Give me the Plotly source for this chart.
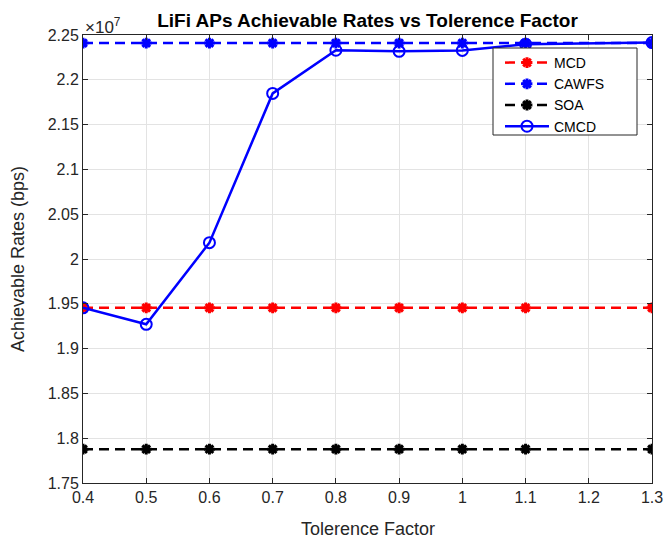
import plotly.graph_objects as go

x_vals = [0.4, 0.5, 0.6, 0.7, 0.8, 0.9, 1.0, 1.1, 1.3]
mcd = [1.9455e7] * 9
cawfs = [2.2410e7] * 9
soa = [1.7877e7] * 9
cmcd = [1.9455e7, 1.9271e7, 2.0182e7, 2.1848e7, 2.2330e7, 2.2318e7, 2.2328e7, 2.2398e7, 2.2415e7]

y_tickvals = [1.75e7, 1.8e7, 1.85e7, 1.9e7, 1.95e7, 2.0e7, 2.05e7, 2.1e7, 2.15e7, 2.2e7, 2.25e7]
y_ticktext = ["1.75", "1.8", "1.85", "1.9", "1.95", "2", "2.05", "2.1", "2.15", "2.2", "2.25"]
x_tickvals = [0.4, 0.5, 0.6, 0.7, 0.8, 0.9, 1.0, 1.1, 1.2, 1.3]
x_ticktext = ["0.4", "0.5", "0.6", "0.7", "0.8", "0.9", "1", "1.1", "1.2", "1.3"]

FONT = "Liberation Sans, Arial, sans-serif"
L, R, T, B = 83, 652, 35, 483
W, H = 665, 540

fig = go.Figure()

def star_series(name, y, color):
    fig.add_trace(go.Scatter(
        x=x_vals, y=y, name=name, mode="lines+markers",
        line=dict(color=color, width=2.5, dash="10px,6px"),
        marker=dict(symbol="asterisk-open", size=9, color=color,
                    line=dict(color=color, width=3)),
    ))

star_series("MCD", mcd, "#ff0000")
star_series("CAWFS", cawfs, "#0000ff")
star_series("SOA", soa, "#000000")
fig.add_trace(go.Scatter(
    x=x_vals, y=cmcd, name="CMCD", mode="lines+markers",
    line=dict(color="#0000ff", width=2.5),
    marker=dict(symbol="circle-open", size=11, color="#0000ff",
                line=dict(color="#0000ff", width=2)),
))

def px_x(p):
    return (p - L) / (R - L)

def px_y(p):
    return (B - p) / (B - T)

# legend box (drawn as a shape so its size matches the reference)
fig.add_shape(type="rect", xref="paper", yref="paper",
              x0=px_x(493), x1=px_x(637), y0=px_y(135), y1=px_y(48),
              fillcolor="white", line=dict(color="#262626", width=1), layer="above")

fig.update_layout(
    width=W, height=H,
    margin=dict(l=L, r=W - R, t=T, b=H - B, autoexpand=False),
    paper_bgcolor="white", plot_bgcolor="white",
    font=dict(family=FONT, color="#262626", size=16),
    title=dict(text="<b>LiFi APs Achievable Rates vs Tolerence Factor</b>",
               x=(L + R) / 2 / W, xanchor="center", y=1 - 20 / H, yanchor="middle",
               font=dict(size=19, color="#000000", family=FONT)),
    showlegend=True,
    legend=dict(x=px_x(500), y=px_y(47),
                xanchor="left", yanchor="top",
                bgcolor="rgba(0,0,0,0)", borderwidth=0,
                font=dict(size=14, color="#000000"),
                tracegroupgap=0, itemwidth=44),
    xaxis=dict(range=[0.4, 1.3], tickvals=x_tickvals, ticktext=x_ticktext,
               showgrid=True, gridcolor="#e3e3e3", gridwidth=1,
               showline=True, linecolor="#262626", linewidth=1, mirror="allticks",
               ticks="inside", ticklen=5, tickcolor="#262626",
               zeroline=False, automargin=False,
               tickfont=dict(size=16)),
    yaxis=dict(range=[1.75e7, 2.25e7], tickvals=y_tickvals, ticktext=y_ticktext,
               showgrid=True, gridcolor="#e3e3e3", gridwidth=1,
               showline=True, linecolor="#262626", linewidth=1, mirror="allticks",
               ticks="inside", ticklen=5, tickcolor="#262626",
               zeroline=False, automargin=False,
               tickfont=dict(size=16)),
)

# axis titles
fig.add_annotation(text="Tolerence Factor", xref="paper", yref="paper",
                   x=0.5, y=px_y(529), xanchor="center", yanchor="middle", showarrow=False,
                   font=dict(size=18, color="#262626", family=FONT))
fig.add_annotation(text="Achievable Rates (bps)", xref="paper", yref="paper",
                   x=px_x(18), y=0.5, xanchor="center", yanchor="middle", showarrow=False,
                   textangle=-90, font=dict(size=18, color="#262626", family=FONT))

fig.add_annotation(text="×10<sup>7</sup>", xref="paper", yref="paper",
                   x=0, y=1, xanchor="left", yanchor="bottom", showarrow=False,
                   font=dict(size=17, color="#262626", family=FONT), xshift=0, yshift=-4)

fig.write_html("out.html")
